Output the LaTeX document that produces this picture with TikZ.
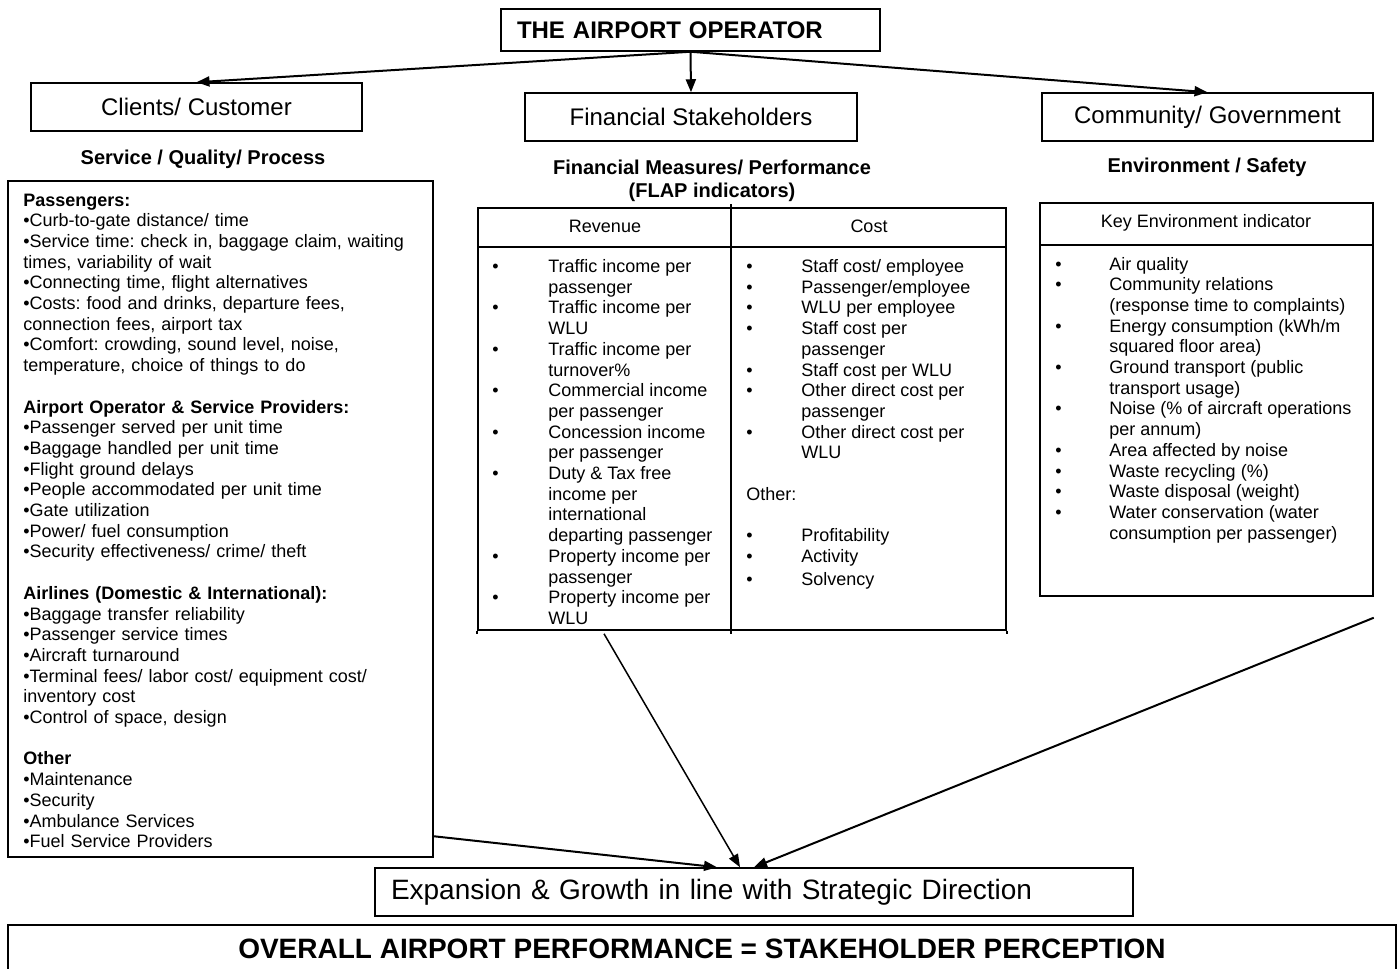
\documentclass[tikz,border=0pt]{standalone}
\usepackage{fontspec}
\setmainfont{Liberation Sans}
\usetikzlibrary{arrows.meta,positioning}

\newlength\unitpx
\setlength\unitpx{0.5pt}
\newcommand{\bodysize}{\fontsize{9}{10.35}\selectfont}
\frenchspacing

\begin{document}
\begin{tikzpicture}
      [ x=0.5pt, y=-0.5pt,
        box/.style={draw, line width=0.75pt, inner sep=0pt},
        head/.style={box, font=\fontsize{12}{14}\selectfont},
        caption/.style={font=\fontsize{10}{11.5}\selectfont\bfseries, align=center},
        body/.style={font=\bodysize, inner sep=0pt, anchor=base west},
        colhead/.style={font=\bodysize, inner sep=0pt, anchor=base},
        rule/.style={line width=0.9pt},
        link/.style={-{Triangle[length=6.5pt,width=5pt]}, line width=1pt}
      ]
      \useasboundingbox (0,0) rectangle (1398,969);

      % top row
      \node[head, font=\fontsize{12}{14}\selectfont\bfseries, minimum width=379\unitpx,
            minimum height=42\unitpx, text width=347\unitpx, align=left]
            (operator) at (690.5,30) {THE AIRPORT OPERATOR};
      \node[head, minimum width=331\unitpx, minimum height=48\unitpx] (clients)   at (196.5,107) {Clients/ Customer};
      \node[head, minimum width=332\unitpx, minimum height=48\unitpx] (finstake)  at (691,117)   {Financial Stakeholders};
      \node[head, minimum width=331\unitpx, minimum height=48\unitpx] (community) at (1207.5,117) {Community/ Government};

      \node[caption] (servcap) at (203,159)  {Service / Quality/ Process};
      \node[caption] (fincap)  at (712,181)  {Financial Measures/ Performance\\(FLAP indicators)};
      \node[caption] (envcap)  at (1207,167) {Environment / Safety};

      % clients panel
      \node[box, minimum width=425\unitpx, minimum height=676\unitpx] (clientbox) at (220.5,519) {};
      \node[body, text width=405\unitpx, align=left] (clientlist) at (23,206) {%
        \textbf{Passengers:}\\
        \textbullet Curb-to-gate distance/ time\\
        \textbullet Service time: check in, baggage claim, waiting\\
        times, variability of wait\\
        \textbullet Connecting time, flight alternatives\\
        \textbullet Costs: food and drinks, departure fees,\\
        connection fees, airport tax\\
        \textbullet Comfort: crowding, sound level, noise,\\
        temperature, choice of things to do\\[\baselineskip]
        \textbf{Airport Operator \& Service Providers:}\\
        \textbullet Passenger served per unit time\\
        \textbullet Baggage handled per unit time\\
        \textbullet Flight ground delays\\
        \textbullet People accommodated per unit time\\
        \textbullet Gate utilization\\
        \textbullet Power/ fuel consumption\\
        \textbullet Security effectiveness/ crime/ theft\\[\baselineskip]
        \textbf{Airlines (Domestic \& International):}\\
        \textbullet Baggage transfer reliability\\
        \textbullet Passenger service times\\
        \textbullet Aircraft turnaround\\
        \textbullet Terminal fees/ labor cost/ equipment cost/\\
        inventory cost\\
        \textbullet Control of space, design\\[\baselineskip]
        \textbf{Other}\\
        \textbullet Maintenance\\
        \textbullet Security\\
        \textbullet Ambulance Services\\
        \textbullet Fuel Service Providers};

      % financial table
      \node[box, minimum width=528\unitpx, minimum height=422\unitpx] (fintable) at (742,419) {};
      \draw[rule] ([yshift=-40\unitpx]fintable.north west) -- ([yshift=-40\unitpx]fintable.north east);
      \draw[rule] ([xshift=254\unitpx,yshift=3\unitpx]fintable.north west)
               -- ([xshift=254\unitpx,yshift=-3\unitpx]fintable.south west);
      \draw[rule] (fintable.south west) -- ++(0,3);
      \draw[rule] (fintable.south east) -- ++(0,3);
      \node[colhead] (revhead)  at (605,232) {Revenue};
      \node[colhead] (costhead) at (869,232) {Cost};
      \node[body] (revlist) at (492,272.5) {%
        \begin{tabular}[t]{@{}p{28pt}@{}l@{}}
          \textbullet & Traffic income per\\
                      & passenger\\
          \textbullet & Traffic income per\\
                      & WLU\\
          \textbullet & Traffic income per\\
                      & turnover\%\\
          \textbullet & Commercial income\\
                      & per passenger\\
          \textbullet & Concession income\\
                      & per passenger\\
          \textbullet & Duty \& Tax free\\
                      & income per\\
                      & international\\
                      & departing passenger\\
          \textbullet & Property income per\\
                      & passenger\\
          \textbullet & Property income per\\
                      & WLU
        \end{tabular}};
      \node[body] (costlist) at (746,272.5) {%
        \begin{tabular}[t]{@{}p{27.5pt}@{}l@{}}
          \textbullet & Staff cost/ employee\\
          \textbullet & Passenger/employee\\
          \textbullet & WLU per employee\\
          \textbullet & Staff cost per\\
                      & passenger\\
          \textbullet & Staff cost per WLU\\
          \textbullet & Other direct cost per\\
                      & passenger\\
          \textbullet & Other direct cost per\\
                      & WLU\\
                      & \\
          \multicolumn{2}{@{}l@{}}{Other:}\\
                      & \\
          \textbullet & Profitability\\
          \textbullet & Activity\\[1pt]
          \textbullet & Solvency
        \end{tabular}};

      % environment table
      \node[box, minimum width=333\unitpx, minimum height=393\unitpx] (envtable) at (1206.5,399.5) {};
      \draw[rule] ([yshift=-43\unitpx]envtable.north west) -- ([yshift=-43\unitpx]envtable.north east);
      \node[colhead] (envhead) at (1206,227) {Key Environment indicator};
      \node[body] (envlist) at (1055,270) {%
        \begin{tabular}[t]{@{}p{27pt}@{}l@{}}
          \textbullet & Air quality\\
          \textbullet & Community relations\\
                      & (response time to complaints)\\
          \textbullet & Energy consumption (kWh/m\\
                      & squared floor area)\\
          \textbullet & Ground transport (public\\
                      & transport usage)\\
          \textbullet & Noise (\% of aircraft operations\\
                      & per annum)\\
          \textbullet & Area affected by noise\\
          \textbullet & Waste recycling (\%)\\
          \textbullet & Waste disposal (weight)\\
          \textbullet & Water conservation (water\\
                      & consumption per passenger)
        \end{tabular}};

      % bottom row
      \node[box, font=\fontsize{14}{16}\selectfont, minimum width=758\unitpx, minimum height=48\unitpx,
            text width=726\unitpx, align=left] (expansion) at (754,892)
            {Expansion \& Growth in line with Strategic Direction};
      \node[box, font=\fontsize{14}{16}\selectfont\bfseries, minimum width=1388\unitpx, minimum height=47\unitpx]
            (overall) at (702,948.5) {OVERALL AIRPORT PERFORMANCE = STAKEHOLDER PERCEPTION};

      \path[link] (operator.south) edge (clients.north)
                                   edge (finstake.north)
                                   edge (community.north);
      \draw[link] ([yshift=21.5\unitpx]clientbox.south east) -- ([xshift=-37\unitpx]expansion.north);
      \draw[link, line width=0.75pt] ([xshift=-138\unitpx,yshift=-3\unitpx]fintable.south)
                                   -- ([xshift=-14\unitpx]expansion.north);
      \draw[link] ([yshift=-21\unitpx]envtable.south east) -- (expansion.north);
\end{tikzpicture}
\end{document}
